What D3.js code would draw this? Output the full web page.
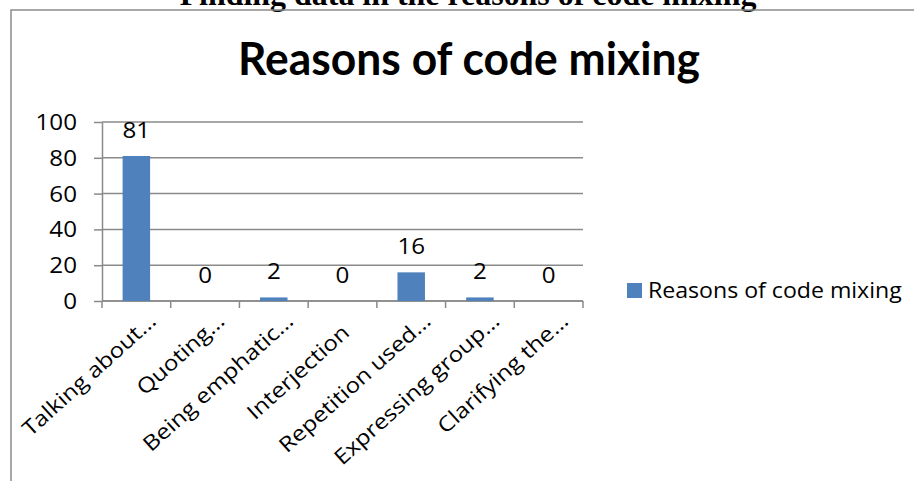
<!DOCTYPE html>
<html>
<head>
<meta charset="utf-8">
<script src="https://cdn.jsdelivr.net/npm/d3@7"></script>
<style>
  html, body { margin: 0; padding: 0; background: #fff; }
  svg { display: block; }
</style>
</head>
<body>
<div id="chart"></div>
<script>
// Data
const pageHeading = 'Finding data in the reasons of code mixing';
const chartTitle = 'Reasons of code mixing';
const seriesName = 'Reasons of code mixing';
const categories = ['Talking about…', 'Quoting…', 'Being emphatic…', 'Interjection',
                    'Repetition used…', 'Expressing group…', 'Clarifying the…'];
const values = [81, 0, 2, 0, 16, 2, 0];
const yTicks = [0, 20, 40, 60, 80, 100];

const W = 914, H = 481;
const PLOT = { left: 102, right: 583, top: 122, bottom: 301 };
const SANS = '"Open Sans", "Noto Sans", sans-serif';
const TITLE_FONT = 'Lato, "Open Sans", sans-serif';
const FS = 21;            // small text size
const BAR = '#4F81BD';
const GRID = '#8a8a8a';

const svg = d3.select('#chart').append('svg')
  .attr('width', W).attr('height', H);

svg.append('rect').attr('width', W).attr('height', H).attr('fill', '#fff');

// helper: horizontal stretch factor so a text node spans `target` px
function stretchFor(sel, target) {
  return target / sel.node().getComputedTextLength();
}

// Document heading, clipped by the top of the page
const heading = svg.append('text')
  .attr('font-family', '"Liberation Serif", "Times New Roman", serif')
  .attr('font-weight', 'bold').attr('font-size', 100)
  .attr('text-anchor', 'middle').attr('x', 468).attr('y', 5)
  .text(pageHeading);
heading.attr('font-size', 100 * 577 / heading.node().getComputedTextLength());

// Chart area frame (only left and top edges are in view)
svg.append('path')
  .attr('d', `M11,${H} V10 H${W}`)
  .attr('fill', 'none').attr('stroke', '#8c8c8c').attr('stroke-width', 1.5);

// Title
const title = svg.append('text')
  .attr('font-family', TITLE_FONT).attr('font-weight', 'bold').attr('font-size', 45)
  .attr('text-anchor', 'middle').text(chartTitle);
title.attr('transform', `translate(469,75) scale(${stretchFor(title, 462)},1)`);

// Scales
const x = d3.scaleBand().domain(categories)
  .range([PLOT.left, PLOT.right]).paddingInner(0.6).paddingOuter(0.3);
const y = d3.scaleLinear().domain([0, 100]).range([PLOT.bottom, PLOT.top]);

// stretch used by all small text, measured on the first category label
const probe = svg.append('text').attr('font-family', SANS).attr('font-size', FS).text(categories[0]);
const SX = stretchFor(probe, 171);
probe.remove();

// Gridlines
svg.append('g').selectAll('line').data(yTicks).join('line')
  .attr('x1', PLOT.left).attr('x2', PLOT.right)
  .attr('y1', d => y(d)).attr('y2', d => y(d))
  .attr('stroke', GRID).attr('stroke-width', 1.5);

// Y axis
const yAxis = svg.append('g')
  .attr('transform', `translate(${PLOT.left},0)`)
  .call(d3.axisLeft(y).tickValues(yTicks).tickSize(8).tickSizeOuter(0).tickPadding(0));
yAxis.select('.domain').attr('stroke', GRID).attr('stroke-width', 1.5);
yAxis.selectAll('.tick line').attr('stroke', GRID).attr('stroke-width', 1.5);
yAxis.selectAll('.tick text')
  .attr('font-family', SANS).attr('font-size', FS).attr('fill', '#000')
  .attr('x', -25 / SX).attr('dy', '0.36em')
  .attr('transform', `scale(${SX},1)`);

// X axis: baseline and ticks on category boundaries
const step = x.step();
const bounds = d3.range(categories.length + 1).map(i => x.range()[0] + i * step);
svg.append('line')
  .attr('x1', PLOT.left).attr('x2', PLOT.right)
  .attr('y1', y(0)).attr('y2', y(0))
  .attr('stroke', GRID).attr('stroke-width', 1.5);
svg.append('g').selectAll('line').data(bounds).join('line')
  .attr('x1', d => d).attr('x2', d => d)
  .attr('y1', y(0)).attr('y2', y(0) + 7)
  .attr('stroke', GRID).attr('stroke-width', 1.5);

// Category labels, rotated
const ANG = -42;
svg.append('g').selectAll('text').data(categories).join('text')
  .attr('font-family', SANS).attr('font-size', FS).attr('fill', '#000')
  .attr('text-anchor', 'end')
  .attr('transform', d => {
    const cx = x(d) + x.bandwidth() / 2;
    // untruncated labels sit a little further back along the text line
    const back = d.endsWith('…') ? 0 : 17;
    const a = ANG * Math.PI / 180;
    const ex = cx + 21 - back * Math.cos(a);
    const ey = y(0) + 22 - back * Math.sin(a);
    return `translate(${ex},${ey}) rotate(${ANG}) scale(${SX},1)`;
  })
  .text(d => d);

// Bars
const data = categories.map((c, i) => ({ c, v: values[i] }));
svg.append('g').selectAll('rect').data(data).join('rect')
  .attr('x', d => x(d.c)).attr('width', x.bandwidth())
  .attr('y', d => y(d.v)).attr('height', d => y(0) - y(d.v))
  .attr('fill', BAR);

// Value labels
svg.append('g').selectAll('text').data(data).join('text')
  .attr('font-family', SANS).attr('font-size', FS).attr('fill', '#000')
  .attr('text-anchor', 'middle')
  .attr('transform', d => `translate(${x(d.c) + x.bandwidth() / 2},${y(d.v) - 18}) scale(${SX},1)`)
  .text(d => d.v);

// Legend
svg.append('rect')
  .attr('x', 627).attr('y', 283).attr('width', 15).attr('height', 15)
  .attr('fill', BAR);
const legendText = svg.append('text')
  .attr('font-family', SANS).attr('font-size', 22).attr('fill', '#000')
  .text(seriesName);
legendText.attr('transform', `translate(648,298) scale(${stretchFor(legendText, 254)},1)`);
</script>
</body>
</html>
